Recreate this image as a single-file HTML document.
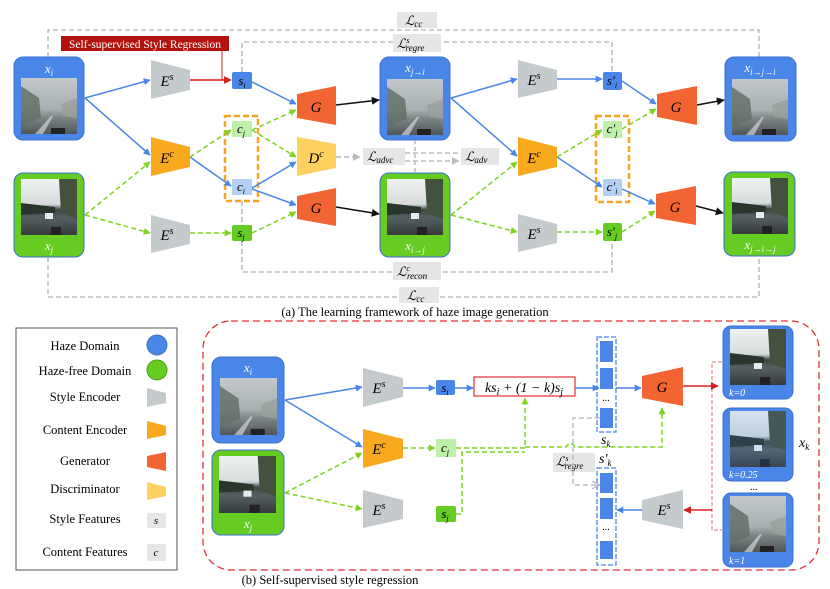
<!DOCTYPE html>
<html><head><meta charset="utf-8">
<style>
html,body{margin:0;padding:0;background:#fff;}
svg{display:block;}
.m{font-family:"Liberation Serif",serif;font-style:italic;}
.t{font-family:"Liberation Serif",serif;}
</style></head><body>
<svg width="830" height="589" viewBox="0 0 830 589" xmlns="http://www.w3.org/2000/svg">
<defs>
<marker id="ab" viewBox="0 0 10 10" refX="9" refY="5" markerWidth="7" markerHeight="7" orient="auto" markerUnits="userSpaceOnUse"><path d="M0,0L10,5L0,10z" fill="#4a86e8"/></marker>
<marker id="ag" viewBox="0 0 10 10" refX="9" refY="5" markerWidth="7" markerHeight="7" orient="auto" markerUnits="userSpaceOnUse"><path d="M0,0L10,5L0,10z" fill="#7ed321"/></marker>
<marker id="ak" viewBox="0 0 10 10" refX="9" refY="5" markerWidth="8" markerHeight="8" orient="auto" markerUnits="userSpaceOnUse"><path d="M0,0L10,5L0,10z" fill="#111"/></marker>
<marker id="ar" viewBox="0 0 10 10" refX="9" refY="5" markerWidth="8" markerHeight="8" orient="auto" markerUnits="userSpaceOnUse"><path d="M0,0L10,5L0,10z" fill="#d42020"/></marker>
<marker id="ay" viewBox="0 0 10 10" refX="9" refY="5" markerWidth="8" markerHeight="8" orient="auto" markerUnits="userSpaceOnUse"><path d="M0,0L10,5L0,10z" fill="#b8bcc0"/></marker>
<marker id="ay2" viewBox="0 0 10 10" refX="9" refY="5" markerWidth="8" markerHeight="8" orient="auto" markerUnits="userSpaceOnUse"><path d="M0,0L10,5L0,10" fill="none" stroke="#b0b4b8" stroke-width="1.5"/></marker>
<linearGradient id="hz" x1="0" y1="0" x2="0" y2="1"><stop offset="0" stop-color="#c2c8cb"/><stop offset="0.55" stop-color="#a9b0b2"/><stop offset="0.7" stop-color="#7f8686"/><stop offset="1" stop-color="#4f5658"/></linearGradient>
<linearGradient id="cl" x1="0" y1="0" x2="0" y2="1"><stop offset="0" stop-color="#f0f2f2"/><stop offset="0.45" stop-color="#d6dbdb"/><stop offset="0.55" stop-color="#3a453f"/><stop offset="0.68" stop-color="#566062"/><stop offset="1" stop-color="#353b3d"/></linearGradient>
<symbol id="himg" viewBox="0 0 56 56"><rect width="56" height="56" fill="url(#hz)"/><path d="M0,8 L18,20 L20,40 L0,48z" fill="#65706a" opacity="0.85"/><path d="M40,26 L56,20 L56,40 L42,38z" fill="#98a09c" opacity="0.8"/><path d="M14,56 L30,38 L32,38 L22,56z" fill="#e6e6e6" opacity="0.6"/><rect x="30" y="50" width="14" height="6" fill="#222"/></symbol>
<symbol id="cimg" viewBox="0 0 56 56"><rect width="56" height="56" fill="url(#cl)"/><path d="M38,0 L56,0 L56,40 L40,34z" fill="#44513f"/><path d="M0,24 L34,28 L34,34 L0,36z" fill="#2a362d"/><rect x="24" y="34" width="8" height="6" fill="#e8eaee"/><rect x="30" y="48" width="10" height="8" fill="#222"/></symbol>
</defs>

<!-- ============ PART A ============ -->
<path d="M48,57 V30 H759 V57" fill="none" stroke="#aeb2b5" stroke-width="1.3" stroke-dasharray="5,3"/>
<rect x="397" y="12" width="40" height="16" fill="#e4e6e7"/>
<text x="405" y="25" class="m" font-size="13">ℒ<tspan font-size="9" dy="2">cc</tspan></text>
<path d="M242,72 V42 H612 V72" fill="none" stroke="#aeb2b5" stroke-width="1.3" stroke-dasharray="5,3"/>
<rect x="393" y="34" width="48" height="18" fill="#e4e6e7"/>
<text x="397" y="48" class="m" font-size="13">ℒ<tspan font-size="8" dy="-5">s</tspan><tspan font-size="9" dx="-4" dy="8">regre</tspan></text>
<path d="M242,201 V272 H612 V241" fill="none" stroke="#aeb2b5" stroke-width="1.3" stroke-dasharray="5,3"/>
<rect x="393" y="262" width="48" height="18" fill="#e4e6e7"/>
<text x="397" y="276" class="m" font-size="13">ℒ<tspan font-size="8" dy="-5">c</tspan><tspan font-size="9" dx="-3" dy="8">recon</tspan></text>
<path d="M48,257 V297 H759 V256" fill="none" stroke="#aeb2b5" stroke-width="1.3" stroke-dasharray="5,3"/>
<rect x="399" y="287" width="40" height="16" fill="#e4e6e7"/>
<text x="407" y="300" class="m" font-size="13">ℒ<tspan font-size="9" dy="2">cc</tspan></text>

<rect x="61" y="36" width="168" height="15" fill="#b3120f"/>
<text x="145" y="48" class="t" font-size="11.5" fill="#fff" text-anchor="middle">Self-supervised Style Regression</text>
<path d="M222,51 V80" stroke="#d42020" stroke-width="1" fill="none"/>

<g>
<rect x="14" y="57" width="70" height="83" rx="9" fill="#4a86e8" stroke="#3a6fd0"/>
<use href="#himg" x="21" y="78" width="56" height="56"/>
<text x="49" y="73" class="m" font-size="13" fill="#fff" text-anchor="middle">x<tspan font-size="9" dy="3">i</tspan></text>
<rect x="14" y="173" width="70" height="84" rx="9" fill="#66cc22" stroke="#3a6fd0"/>
<use href="#cimg" x="21" y="179" width="56" height="56"/>
<text x="49" y="250" class="m" font-size="13" fill="#fff" text-anchor="middle">x<tspan font-size="9" dy="3">j</tspan></text>

<rect x="380" y="57" width="70" height="83" rx="9" fill="#4a86e8" stroke="#3a6fd0"/>
<use href="#himg" x="387" y="79" width="56" height="56"/>
<text x="415" y="72" class="m" font-size="13" fill="#fff" text-anchor="middle">x<tspan font-size="9" dy="3">j→i</tspan></text>
<rect x="380" y="173" width="70" height="84" rx="9" fill="#66cc22" stroke="#3a6fd0"/>
<use href="#cimg" x="387" y="179" width="56" height="56"/>
<text x="415" y="250" class="m" font-size="13" fill="#fff" text-anchor="middle">x<tspan font-size="9" dy="3">i→j</tspan></text>

<rect x="725" y="57" width="71" height="84" rx="9" fill="#4a86e8" stroke="#3a6fd0"/>
<use href="#himg" x="731" y="79" width="58" height="56"/>
<text x="760" y="72" class="m" font-size="13" fill="#fff" text-anchor="middle">x<tspan font-size="9" dy="3">i→j→i</tspan></text>
<rect x="724" y="172" width="71" height="84" rx="9" fill="#66cc22" stroke="#3a6fd0"/>
<use href="#cimg" x="731" y="178" width="58" height="56"/>
<text x="760" y="249" class="m" font-size="13" fill="#fff" text-anchor="middle">x<tspan font-size="9" dy="3">j→i→j</tspan></text>
</g>

<path d="M415,140 V173" stroke="#aeb2b5" stroke-width="1.3" stroke-dasharray="4,3"/>
<path d="M336,157 H360" stroke="#b8bcc0" stroke-width="1.5" stroke-dasharray="5,3" marker-end="url(#ay)"/>
<rect x="363" y="148" width="42" height="17" fill="#e4e6e7"/>
<text x="367" y="161" class="m" font-size="13">ℒ<tspan font-size="9" dy="2">advc</tspan></text>
<path d="M405,153 H459 M405,161 H459" stroke="#b8bcc0" stroke-width="1.5" stroke-dasharray="5,3" marker-end="url(#ay)"/>
<rect x="461" y="148" width="38" height="17" fill="#e4e6e7"/>
<text x="465" y="161" class="m" font-size="13">ℒ<tspan font-size="9" dy="2">adv</tspan></text>

<rect x="225" y="116" width="33" height="85" fill="none" stroke="#f5a623" stroke-width="2.5" stroke-dasharray="6,3"/>
<rect x="596" y="116" width="33" height="86" fill="none" stroke="#f5a623" stroke-width="2.5" stroke-dasharray="6,3"/>

<g>
<polygon points="151,60 190,70 190,90 151,99" fill="#c5cacd"/>
<text x="167" y="86" class="m" font-size="15" text-anchor="middle">E<tspan font-size="10" dy="-6">s</tspan></text>
<polygon points="151,137 190,147 190,167 151,176" fill="#f9a91e"/>
<text x="167" y="163" class="m" font-size="15" text-anchor="middle">E<tspan font-size="10" dy="-6">c</tspan></text>
<polygon points="151,215 190,225 190,244 151,253" fill="#c5cacd"/>
<text x="167" y="240" class="m" font-size="15" text-anchor="middle">E<tspan font-size="10" dy="-6">s</tspan></text>

<polygon points="297,94 336,86 336,125 297,118" fill="#f26532"/>
<text x="316" y="112" class="m" font-size="15" text-anchor="middle">G</text>
<polygon points="297,137 336,144 336,168 297,176" fill="#fdd060"/>
<text x="316" y="163" class="m" font-size="15" text-anchor="middle">D<tspan font-size="10" dy="-6">c</tspan></text>
<polygon points="297,196 336,188 336,226 297,219" fill="#f26532"/>
<text x="316" y="213" class="m" font-size="15" text-anchor="middle">G</text>

<polygon points="518,60 557,70 557,89 518,98" fill="#c5cacd"/>
<text x="534" y="85" class="m" font-size="15" text-anchor="middle">E<tspan font-size="10" dy="-6">s</tspan></text>
<polygon points="518,137 557,147 557,167 518,176" fill="#f9a91e"/>
<text x="534" y="163" class="m" font-size="15" text-anchor="middle">E<tspan font-size="10" dy="-6">c</tspan></text>
<polygon points="518,214 557,224 557,243 518,252" fill="#c5cacd"/>
<text x="534" y="239" class="m" font-size="15" text-anchor="middle">E<tspan font-size="10" dy="-6">s</tspan></text>

<polygon points="657,94 697,86 697,125 657,117" fill="#f26532"/>
<text x="676" y="112" class="m" font-size="15" text-anchor="middle">G</text>
<polygon points="656,194 696,186 696,225 656,218" fill="#f26532"/>
<text x="675" y="212" class="m" font-size="15" text-anchor="middle">G</text>
</g>

<rect x="232" y="72" width="20" height="17" rx="2" fill="#4a86e8"/>
<text x="242" y="85" class="m" font-size="13" text-anchor="middle">s<tspan font-size="8" dy="3">i</tspan></text>
<rect x="232" y="121" width="20" height="16" fill="#bdf0a8"/>
<text x="241" y="133" class="m" font-size="13" text-anchor="middle">c<tspan font-size="8" dy="3">j</tspan></text>
<rect x="232" y="179" width="20" height="16" fill="#b4d0f4"/>
<text x="241" y="191" class="m" font-size="13" text-anchor="middle">c<tspan font-size="8" dy="3">i</tspan></text>
<rect x="232" y="225" width="20" height="16" rx="2" fill="#66cc22"/>
<text x="241" y="237" class="m" font-size="13" text-anchor="middle">s<tspan font-size="8" dy="3">j</tspan></text>

<rect x="603" y="72" width="19" height="18" rx="2" fill="#4a86e8"/>
<text x="612" y="85" class="m" font-size="13" text-anchor="middle">s′<tspan font-size="8" dy="3">i</tspan></text>
<rect x="603" y="121" width="19" height="17" fill="#bdf0a8"/>
<text x="612" y="133" class="m" font-size="13" text-anchor="middle">c′<tspan font-size="8" dy="3">j</tspan></text>
<rect x="603" y="179" width="19" height="17" fill="#b4d0f4"/>
<text x="612" y="191" class="m" font-size="13" text-anchor="middle">c′<tspan font-size="8" dy="3">i</tspan></text>
<rect x="603" y="223" width="19" height="18" rx="2" fill="#66cc22"/>
<text x="612" y="236" class="m" font-size="13" text-anchor="middle">s′<tspan font-size="8" dy="3">j</tspan></text>

<g fill="none" stroke-width="1.5">
<g stroke="#4a86e8" marker-end="url(#ab)">
<path d="M85,98 L150,80"/><path d="M85,98 L150,155"/>
<path d="M190,157 L231,186"/>
<path d="M252,82 L296,104"/><path d="M252,188 L296,162"/><path d="M252,189 L296,205"/>
<path d="M451,98 L517,79"/><path d="M451,98 L517,156"/>
<path d="M557,79 L602,79"/><path d="M557,157 L602,187"/>
<path d="M622,81 L656,104"/><path d="M622,189 L655,204"/>
</g>
<g stroke="#7ed321" stroke-dasharray="5,3" marker-end="url(#ag)">
<path d="M85,215 L150,162"/><path d="M85,215 L150,233"/>
<path d="M190,157 L231,130"/><path d="M190,233 L231,233"/>
<path d="M252,130 L296,110"/><path d="M252,130 L296,157"/><path d="M252,233 L296,212"/>
<path d="M451,215 L517,162"/><path d="M451,215 L517,232"/>
<path d="M557,157 L602,130"/><path d="M557,232 L602,232"/>
<path d="M622,129 L656,109"/><path d="M622,232 L655,211"/>
</g>
<g stroke="#111" marker-end="url(#ak)">
<path d="M336,105 L379,100"/><path d="M336,207 L379,214"/>
<path d="M697,105 L724,100"/><path d="M696,206 L723,213"/>
</g>
<path d="M190,80 L231,80" stroke="#d42020" marker-end="url(#ar)"/>
</g>

<text x="415" y="316" class="t" font-size="12.5" text-anchor="middle">(a) The learning framework of haze image generation</text>

<!-- LEGEND -->
<rect x="16" y="328" width="161" height="242" fill="#fff" stroke="#555" stroke-width="1"/>
<g class="t" font-size="12.5" text-anchor="middle">
<text x="85" y="350">Haze Domain</text>
<text x="85" y="375">Haze-free Domain</text>
<text x="85" y="401">Style Encoder</text>
<text x="85" y="434">Content Encoder</text>
<text x="85" y="465">Generator</text>
<text x="85" y="493">Discriminator</text>
<text x="85" y="523">Style Features</text>
<text x="85" y="556">Content Features</text>
</g>
<circle cx="157" cy="345" r="10" fill="#4a86e8" stroke="#3a6fd0"/>
<circle cx="157" cy="370" r="10" fill="#66cc22" stroke="#4a9a20"/>
<polygon points="147,388 166,393 166,403 147,407" fill="#c5cacd"/>
<polygon points="147,421 166,426 166,435 147,439" fill="#f9a91e"/>
<polygon points="147,456 166,452 166,471 147,467" fill="#f26532"/>
<polygon points="147,482 166,487 166,496 147,500" fill="#fdd060"/>
<rect x="147" y="513" width="19" height="15" rx="2" fill="#e4e6e7"/>
<text x="156" y="524" class="m" font-size="11" text-anchor="middle">s</text>
<rect x="147" y="544" width="19" height="17" fill="#e4e6e7"/>
<text x="156" y="556" class="m" font-size="11" text-anchor="middle">c</text>

<!-- PART B -->
<rect x="203" y="321" width="616" height="249" rx="28" fill="none" stroke="#e03030" stroke-width="1.3" stroke-dasharray="7,4"/>

<rect x="212" y="357" width="72" height="86" rx="9" fill="#4a86e8" stroke="#3a6fd0"/>
<use href="#himg" x="220" y="377" width="57" height="59"/>
<text x="248" y="372" class="m" font-size="13" fill="#fff" text-anchor="middle">x<tspan font-size="9" dy="3">i</tspan></text>
<rect x="212" y="450" width="72" height="85" rx="9" fill="#66cc22" stroke="#3a6fd0"/>
<use href="#cimg" x="219" y="456" width="57" height="57"/>
<text x="248" y="528" class="m" font-size="13" fill="#fff" text-anchor="middle">x<tspan font-size="9" dy="3">j</tspan></text>

<polygon points="363,368 403,378 403,397 363,407" fill="#c5cacd"/>
<text x="379" y="393" class="m" font-size="15" text-anchor="middle">E<tspan font-size="10" dy="-6">s</tspan></text>
<polygon points="363,429 403,439 403,458 363,468" fill="#f9a91e"/>
<text x="379" y="454" class="m" font-size="15" text-anchor="middle">E<tspan font-size="10" dy="-6">c</tspan></text>
<polygon points="363,490 403,500 403,519 363,528" fill="#c5cacd"/>
<text x="379" y="515" class="m" font-size="15" text-anchor="middle">E<tspan font-size="10" dy="-6">s</tspan></text>

<rect x="436" y="380" width="19" height="15" rx="2" fill="#4a86e8"/>
<text x="445" y="392" class="m" font-size="13" text-anchor="middle">s<tspan font-size="8" dy="3">i</tspan></text>
<rect x="436" y="439" width="20" height="18" fill="#bdf0a8"/>
<text x="445" y="452" class="m" font-size="13" text-anchor="middle">c<tspan font-size="8" dy="3">j</tspan></text>
<rect x="436" y="506" width="20" height="16" rx="2" fill="#66cc22"/>
<text x="445" y="518" class="m" font-size="13" text-anchor="middle">s<tspan font-size="8" dy="3">j</tspan></text>

<rect x="474" y="377" width="101" height="19" fill="#fff" stroke="#e03030" stroke-width="1.2"/>
<text x="524" y="392" class="m" font-size="14" text-anchor="middle">ks<tspan font-size="10" dy="3">i</tspan><tspan dy="-3"> + (1 − k)s</tspan><tspan font-size="10" dy="3">j</tspan></text>

<rect x="597" y="337" width="19" height="95" fill="none" stroke="#4a86e8" stroke-width="1.3" stroke-dasharray="5,2"/>
<rect x="600" y="341" width="13" height="21" fill="#4a86e8"/>
<rect x="600" y="368" width="13" height="21" fill="#4a86e8"/>
<text x="606" y="401" class="t" font-size="10" text-anchor="middle">...</text>
<rect x="600" y="408" width="13" height="20" fill="#4a86e8"/>
<text x="601" y="444" class="m" font-size="14">s<tspan font-size="9" dy="3">k</tspan></text>
<rect x="597" y="468" width="19" height="97" fill="none" stroke="#4a86e8" stroke-width="1.3" stroke-dasharray="5,2"/>
<rect x="600" y="473" width="13" height="20" fill="#4a86e8"/>
<rect x="600" y="498" width="13" height="21" fill="#4a86e8"/>
<text x="606" y="530" class="t" font-size="10" text-anchor="middle">...</text>
<rect x="600" y="541" width="13" height="18" fill="#4a86e8"/>
<text x="599" y="463" class="m" font-size="14">s′<tspan font-size="9" dy="3">k</tspan></text>

<rect x="553" y="453" width="42" height="19" fill="#e4e6e7"/>
<text x="556" y="466" class="m" font-size="13">ℒ<tspan font-size="8" dy="-5">s</tspan><tspan font-size="9" dx="-4" dy="8">regre</tspan></text>
<path d="M600,418 H573 V485 H599" fill="none" stroke="#b0b4b8" stroke-width="1.3" stroke-dasharray="5,3" marker-end="url(#ay2)"/>

<polygon points="642,376 683,367 683,406 642,398" fill="#f26532"/>
<text x="662" y="392" class="m" font-size="15" text-anchor="middle">G</text>
<polygon points="642,500 683,490 683,529 642,520" fill="#c5cacd"/>
<text x="664" y="515" class="m" font-size="15" text-anchor="middle">E<tspan font-size="10" dy="-6">s</tspan></text>

<rect x="723" y="326" width="70" height="73" rx="8" fill="#4a86e8" stroke="#3a6fd0"/>
<use href="#cimg" x="729" y="329" width="58" height="56"/>
<text x="729" y="396" class="m" font-size="10" fill="#fff">k=0</text>
<rect x="723" y="408" width="70" height="73" rx="8" fill="#4a86e8" stroke="#3a6fd0"/>
<use href="#cimg" x="729" y="411" width="58" height="56" opacity="0.85"/>
<text x="729" y="478" class="m" font-size="10" fill="#fff">k=0.25</text>
<text x="750" y="490" class="t" font-size="10">...</text>
<rect x="723" y="493" width="70" height="74" rx="8" fill="#4a86e8" stroke="#3a6fd0"/>
<use href="#himg" x="729" y="496" width="58" height="56"/>
<text x="729" y="564" class="m" font-size="10" fill="#fff">k=1</text>
<text x="799" y="447" class="m" font-size="14">x<tspan font-size="9" dy="3">k</tspan></text>

<path d="M722,362 H712 V530 H722" fill="none" stroke="#e87070" stroke-width="1" stroke-dasharray="4,2"/>

<g fill="none" stroke-width="1.5">
<g stroke="#4a86e8" marker-end="url(#ab)">
<path d="M285,400 L362,387"/><path d="M285,400 L362,447"/>
<path d="M403,388 L435,388"/><path d="M455,388 L473,388"/>
<path d="M575,388 L599,388"/><path d="M616,388 L641,388"/>
<path d="M642,510 L617,510"/>
</g>
<g stroke="#7ed321" stroke-dasharray="5,3">
<path d="M285,493 L362,453" marker-end="url(#ag)"/><path d="M285,493 L362,509" marker-end="url(#ag)"/>
<path d="M403,448 L435,448" marker-end="url(#ag)"/>
<path d="M456,448 H525 V398" marker-end="url(#ag)"/>
<path d="M456,514 H462 V452 H525"/>
<path d="M525,447 H566 Q570,440 575,447 H662 V408" marker-end="url(#ag)"/>
</g>
<path d="M683,386 L718,386" stroke="#e02020" marker-end="url(#ar)"/>
<path d="M712,510 L684,510" stroke="#e02020" marker-end="url(#ar)"/>
</g>

<text x="330" y="584" class="t" font-size="12.5" text-anchor="middle">(b) Self-supervised style regression</text>
</svg>
</body></html>
